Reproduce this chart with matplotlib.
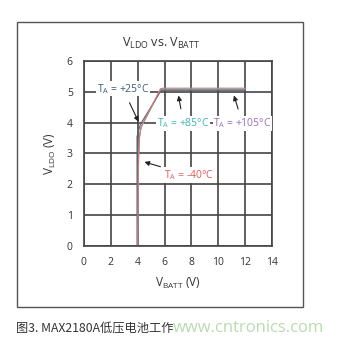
import matplotlib.pyplot as plt
from matplotlib.patches import Rectangle

plt.rcParams['font.family'] = ['Open Sans', 'DejaVu Sans']

# curves (V_BATT, V_LDO)
x_m40 = [4.0, 4.05, 4.12, 4.25, 5.7, 5.9, 12.0]
y_m40 = [0.0, 2.5, 3.5, 3.85, 5.1, 5.12, 5.12]
x_25 = [3.95, 3.95, 4.2, 5.75, 12.0]
y_25 = [0.0, 3.55, 3.95, 5.05, 5.05]
x_85 = [4.0, 4.05, 4.15, 4.25, 5.72, 12.0]
y_85 = [0.0, 2.8, 3.6, 3.85, 5.07, 5.07]
x_105 = [4.0, 4.05, 4.15, 4.25, 5.7, 12.0]
y_105 = [0.0, 2.8, 3.6, 3.87, 5.09, 5.09]

xticks = [0, 2, 4, 6, 8, 10, 12, 14]
yticks = [0, 1, 2, 3, 4, 5, 6]

fig = plt.figure(figsize=(3.44, 3.43), dpi=100)
fig.patches.append(Rectangle((0.049, 0.105), 0.832, 0.831, transform=fig.transFigure,
                             fill=False, edgecolor='#555555', lw=1.0))

ax = fig.add_axes([0.244, 0.283, 0.547, 0.539])
ax.plot(x_105, y_105, color='#9b6bb5', lw=0.7)
ax.plot(x_85, y_85, color='#3bb5b0', lw=0.7)
ax.plot(x_25, y_25, color='#5f6670', lw=0.8)
ax.plot(x_m40, y_m40, color='#e07878', lw=0.8)

ax.set_xlim(0, 14)
ax.set_ylim(0, 6)
ax.set_xticks(xticks)
ax.set_yticks(yticks)
ax.grid(True, color='#444444', lw=1.2)
ax.set_axisbelow(True)
for s in ax.spines.values():
    s.set_color('#444444')
    s.set_linewidth(1.2)
ax.tick_params(length=0, labelsize=7.5, labelcolor='#333333', pad=8)

fig.text(0.468, 0.872, r'V$_{\mathregular{LDO}}$ vs. V$_{\mathregular{BATT}}$',
         fontsize=9, color='#333333', ha='center', va='center')
ax.set_ylabel(r'V$_{\mathregular{LDO}}$ (V)', fontsize=8.5, color='#333333', labelpad=6)
ax.set_xlabel(r'V$_{\mathregular{BATT}}$ (V)', fontsize=8.5, color='#333333', labelpad=6)

bbox = dict(facecolor='white', edgecolor='none', pad=0.5)
arr = dict(arrowstyle='-|>', color='#222222', lw=0.8, mutation_scale=7)
ax.annotate(r'T$_\mathregular{A}$ = +25°C', xy=(4.15, 3.95), xytext=(2.9, 5.1),
            fontsize=7.5, color='#3a5a78', ha='center', va='center', bbox=bbox,
            arrowprops=dict(arr, shrinkA=5))
ax.annotate(r'T$_\mathregular{A}$ = +85°C', xy=(7.0, 4.97), xytext=(7.4, 3.98),
            fontsize=7.5, color='#3bb5b0', ha='center', va='center', bbox=bbox,
            arrowprops=dict(arr, shrinkA=5))
ax.annotate(r'T$_\mathregular{A}$ = +105°C', xy=(11.1, 4.97), xytext=(11.8, 3.98),
            fontsize=7.5, color='#9b6bb5', ha='center', va='center', bbox=bbox,
            arrowprops=dict(arr, shrinkA=5), annotation_clip=False)
ax.annotate(r'T$_\mathregular{A}$ = -40°C', xy=(4.3, 2.75), xytext=(7.8, 2.3),
            fontsize=7.5, color='#e05a5a', ha='center', va='center', bbox=bbox,
            arrowprops=dict(arr, shrinkA=2))

fig.text(0.047, 0.044, '图3. MAX2180A低压电池工作', fontsize=8.8, style='italic',
         color='#333333', family=['Noto Sans CJK SC', 'DejaVu Sans'], va='center')
fig.text(0.503, 0.045, 'www.cntronics.com', fontsize=12, color='#b8dcb0', va='center')

fig.savefig('out.png', dpi=100)
